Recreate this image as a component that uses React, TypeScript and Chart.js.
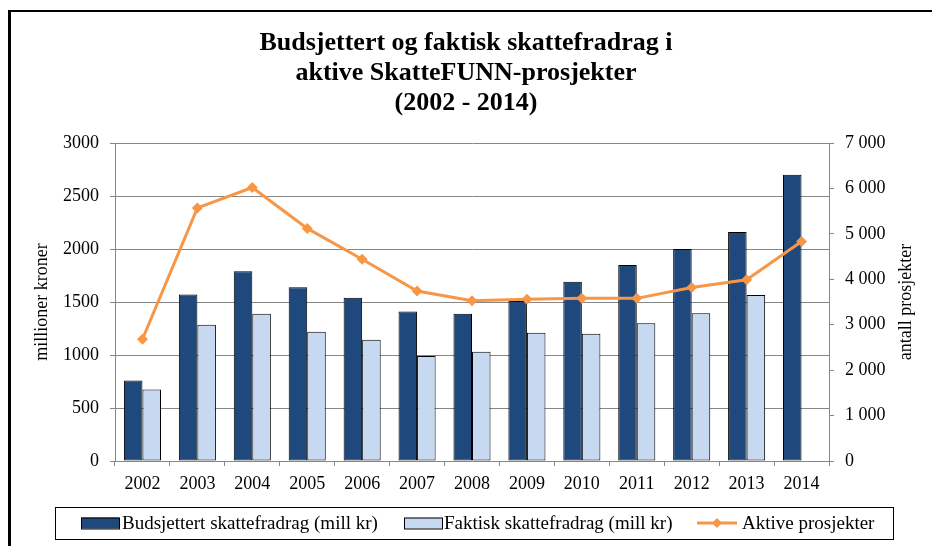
import React, { useEffect, useRef } from "react";
import { Chart, registerables } from "chart.js";

Chart.register(...registerables);

const years = ["2002", "2003", "2004", "2005", "2006", "2007", "2008", "2009", "2010", "2011", "2012", "2013", "2014"];
const budsjettert = [760, 1570, 1790, 1640, 1540, 1410, 1390, 1510, 1690, 1850, 2000, 2160, 2700];
const faktisk = [675, 1285, 1390, 1220, 1145, 990, 1030, 1210, 1200, 1300, 1395, 1565, null];
const aktive = [2680, 5570, 6020, 5120, 4440, 3740, 3530, 3560, 3580, 3580, 3820, 3990, 4830];

const titleLines = ["Budsjettert og faktisk skattefradrag i", "aktive SkatteFUNN-prosjekter", "(2002 - 2014)"];
const leftTitle = "millioner kroner";
const rightTitle = "antall prosjekter";

const DARK = "#1F497D";
const LIGHT = "#C6D9F1";
const ORANGE = "#F79646";
const GRID = "#868686";
const FONT = "'Liberation Serif', 'Times New Roman', serif";

const fmtThousands = (v: number) => {
  if (v < 1000) return String(v);
  const th = Math.floor(v / 1000);
  const rest = String(v % 1000).padStart(3, "0");
  return `${th} ${rest}`;
};

const decorPlugin = {
  id: "decor",
  beforeDraw(chart: any) {
    const ctx = chart.ctx;
    ctx.save();
    ctx.fillStyle = "#ffffff";
    ctx.fillRect(0, 0, chart.width, chart.height);
    ctx.restore();
  },
  afterDraw(chart: any) {
    const ctx = chart.ctx;
    const area = chart.chartArea;
    ctx.save();
    // outer frame
    ctx.fillStyle = "#000000";
    ctx.fillRect(8, 10, chart.width - 8, 2);
    ctx.fillRect(8, 10, 3, chart.height - 10);

    // axis titles
    const midY = (area.top + area.bottom) / 2;
    ctx.font = `18px ${FONT}`;
    ctx.fillStyle = "#000";
    ctx.textAlign = "center";
    ctx.textBaseline = "middle";
    ctx.save();
    ctx.translate(42, midY);
    ctx.rotate(-Math.PI / 2);
    ctx.fillText(leftTitle, 0, 0);
    ctx.restore();
    ctx.save();
    ctx.translate(906, midY);
    ctx.rotate(-Math.PI / 2);
    ctx.fillText(rightTitle, 0, 0);
    ctx.restore();

    // legend
    const ds = chart.data.datasets;
    const ly = 523;
    ctx.strokeStyle = "#000";
    ctx.lineWidth = 1;
    ctx.strokeRect(55.5, 507.5, 838, 32);
    ctx.font = `19px ${FONT}`;
    ctx.textAlign = "left";
    ctx.textBaseline = "middle";
    const items = [
      { x: 81, textX: 122 },
      { x: 404, textX: 444 },
      { x: 697, textX: 742 },
    ];
    for (let i = 0; i < 2; i++) {
      const it = items[i];
      const d = ds[i];
      ctx.fillStyle = d.backgroundColor;
      ctx.fillRect(it.x, ly - 5.5, 38, 11);
      ctx.strokeStyle = "#000";
      ctx.lineWidth = 1;
      ctx.strokeRect(it.x + 0.5, ly - 5, 38, 11);
      ctx.fillStyle = "#000";
      ctx.fillText(d.label, it.textX, ly + 1);
    }
    const ld = ds[2];
    const it = items[2];
    ctx.strokeStyle = ld.borderColor;
    ctx.lineWidth = 3;
    ctx.beginPath();
    ctx.moveTo(it.x, ly);
    ctx.lineTo(it.x + 40, ly);
    ctx.stroke();
    ctx.fillStyle = ld.borderColor;
    ctx.beginPath();
    const cx = it.x + 20;
    ctx.moveTo(cx, ly - 5);
    ctx.lineTo(cx + 5, ly);
    ctx.lineTo(cx, ly + 5);
    ctx.lineTo(cx - 5, ly);
    ctx.closePath();
    ctx.fill();
    ctx.fillStyle = "#000";
    ctx.fillText(ld.label, it.textX, ly + 1);
    ctx.restore();
  },
};

export default function App() {
  const ref = useRef<HTMLCanvasElement | null>(null);
  useEffect(() => {
    if (!ref.current) return;
    const chart = new Chart(ref.current, {
      type: "bar",
      data: {
        labels: years,
        datasets: [
          {
            type: "bar",
            label: "Budsjettert skattefradrag (mill kr)",
            data: budsjettert,
            backgroundColor: DARK,
            borderColor: "#000000",
            borderWidth: 1,
            borderSkipped: false,
            yAxisID: "y",
            order: 1,
            categoryPercentage: 0.675,
            barPercentage: 1.0,
          },
          {
            type: "bar",
            label: "Faktisk skattefradrag (mill kr)",
            data: faktisk,
            backgroundColor: LIGHT,
            borderColor: "#000000",
            borderWidth: 1,
            borderSkipped: false,
            yAxisID: "y",
            order: 1,
            categoryPercentage: 0.675,
            barPercentage: 1.0,
          },
          {
            type: "line",
            label: "Aktive prosjekter",
            data: aktive,
            borderColor: ORANGE,
            backgroundColor: ORANGE,
            borderWidth: 3,
            pointStyle: "rectRot",
            pointRadius: 5.5,
            pointBorderWidth: 0,
            pointBackgroundColor: ORANGE,
            tension: 0,
            yAxisID: "y1",
            order: 0,
          } as any,
        ],
      },
      options: {
        responsive: false,
        animation: false,
        layout: { padding: 0 },
        plugins: {
          legend: { display: false },
          tooltip: { enabled: false },
          title: {
            display: true,
            text: titleLines,
            color: "#000",
            font: { family: FONT, size: 26, weight: "bold", lineHeight: 30 / 26 },
            padding: { top: 28, bottom: 25 },
          },
        },
        scales: {
          x: {
            offset: true,
            grid: { display: true, drawOnChartArea: false, drawTicks: true, tickLength: 5, color: GRID, offset: true },
            border: { display: true, color: GRID },
            ticks: { color: "#000", font: { family: FONT, size: 18 }, padding: 7, maxRotation: 0, autoSkip: false },
            afterFit: (s: any) => {
              s.height = 85;
            },
          },
          y: {
            position: "left",
            min: 0,
            max: 3000,
            ticks: {
              stepSize: 500,
              color: "#000",
              font: { family: FONT, size: 18 },
              padding: 11,
              callback: (v: any) => String(v),
            },
            grid: { color: GRID, tickLength: 5, drawTicks: true },
            border: { display: true, color: GRID },
            afterFit: (s: any) => {
              s.width = 115;
            },
          },
          y1: {
            position: "right",
            min: 0,
            max: 7000,
            ticks: {
              stepSize: 1000,
              color: "#000",
              font: { family: FONT, size: 18 },
              padding: 11,
              callback: (v: any) => fmtThousands(Number(v)),
            },
            grid: { drawOnChartArea: false, drawTicks: true, tickLength: 5, color: GRID },
            border: { display: true, color: GRID },
            afterFit: (s: any) => {
              s.width = 103;
            },
          },
        },
      },
      plugins: [decorPlugin],
    });
    return () => chart.destroy();
  }, []);
  return (
    <canvas
      ref={ref}
      width={932}
      height={546}
      style={{ position: "fixed", left: 0, top: 0, width: 932, height: 546, display: "block" }}
    />
  );
}
